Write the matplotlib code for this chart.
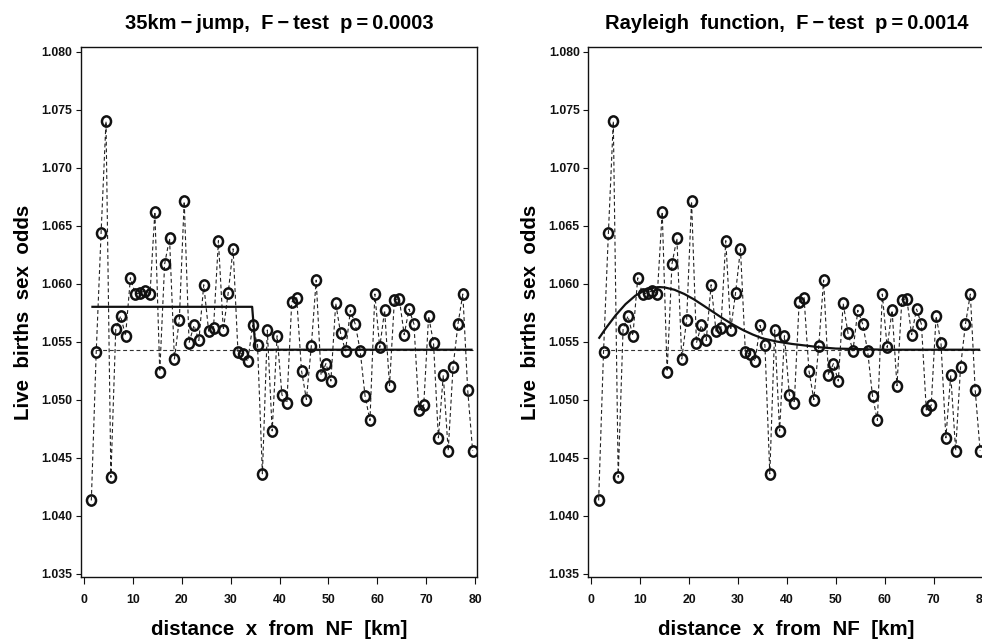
import matplotlib
matplotlib.use("Agg")
import matplotlib.pyplot as plt
from matplotlib.path import Path
import numpy as np

plt.rcParams['font.family'] = ['Liberation Sans', 'DejaVu Sans']
plt.rcParams['font.weight'] = 'bold'

# ---- data ----
distance_km = [1.5, 2.5, 3.5, 4.5, 5.5, 6.5, 7.5, 8.5, 9.5, 10.5,
               11.5, 12.5, 13.5, 14.5, 15.5, 16.5, 17.5, 18.5, 19.5, 20.5,
               21.5, 22.5, 23.5, 24.5, 25.5, 26.5, 27.5, 28.5, 29.5, 30.5,
               31.5, 32.5, 33.5, 34.5, 35.5, 36.5, 37.5, 38.5, 39.5, 40.5,
               41.5, 42.5, 43.5, 44.5, 45.5, 46.5, 47.5, 48.5, 49.5, 50.5,
               51.5, 52.5, 53.5, 54.5, 55.5, 56.5, 57.5, 58.5, 59.5, 60.5,
               61.5, 62.5, 63.5, 64.5, 65.5, 66.5, 67.5, 68.5, 69.5, 70.5,
               71.5, 72.5, 73.5, 74.5, 75.5, 76.5, 77.5, 78.5, 79.5]
sex_odds = [1.0413, 1.0541, 1.0644, 1.0740, 1.0433, 1.0561, 1.0572, 1.0555, 1.0605, 1.0591,
            1.0592, 1.0594, 1.0591, 1.0662, 1.0524, 1.0617, 1.0639, 1.0535, 1.0569, 1.0671,
            1.0549, 1.0564, 1.0551, 1.0599, 1.0559, 1.0562, 1.0637, 1.0560, 1.0592, 1.0630,
            1.0541, 1.0539, 1.0533, 1.0564, 1.0547, 1.0436, 1.0560, 1.0473, 1.0555, 1.0504,
            1.0497, 1.0584, 1.0588, 1.0525, 1.0500, 1.0546, 1.0603, 1.0521, 1.0531, 1.0516,
            1.0583, 1.0557, 1.0542, 1.0577, 1.0565, 1.0542, 1.0503, 1.0482, 1.0591, 1.0545,
            1.0577, 1.0512, 1.0586, 1.0587, 1.0556, 1.0578, 1.0565, 1.0491, 1.0495, 1.0572,
            1.0549, 1.0467, 1.0521, 1.0456, 1.0528, 1.0565, 1.0591, 1.0508, 1.0456]

baseline_x = [2.5, 79.5]
baseline_y = [1.0543, 1.0543]

jump_x = [1.5, 34.4, 35.1, 79.5]
jump_y = [1.0580, 1.0580, 1.0543, 1.0543]

rayleigh_x = [1.5, 3, 5, 7, 9, 11, 13, 14, 15, 17, 19, 21, 23, 25, 27, 29, 31, 33, 35,
              38, 41, 44, 47, 50, 55, 60, 70, 79.5]
rayleigh_y = [1.05525, 1.05617, 1.05728, 1.05823, 1.05896, 1.05944, 1.05967, 1.05970,
              1.05967, 1.05947, 1.05911, 1.05864, 1.05809, 1.05753, 1.05697, 1.05646,
              1.05600, 1.05561, 1.05528, 1.05500, 1.05480, 1.05465, 1.05450, 1.05440,
              1.05435, 1.05430, 1.05430, 1.05430]

titles = ["35km\u2009\u2212\u2009jump,  F\u2009\u2212\u2009test  p\u2009=\u20090.0003",
          "Rayleigh  function,  F\u2009\u2212\u2009test  p\u2009=\u20090.0014"]
xlabel = "distance  x  from  NF  [km]"
ylabel = "Live  births  sex  odds"
xticks = [0, 10, 20, 30, 40, 50, 60, 70, 80]
yticks = [1.035, 1.040, 1.045, 1.050, 1.055, 1.060, 1.065, 1.070, 1.075, 1.080]

# ellipse ("O"-like) marker
circ = Path.unit_circle()
o_marker = Path(circ.vertices * np.array([0.88, 1.0]), circ.codes)

fig = plt.figure(figsize=(9.82, 6.4), dpi=100)
ax1 = fig.add_axes([0.0822, 0.0984, 0.4039, 0.8281])
ax2 = fig.add_axes([0.5988, 0.0984, 0.4041, 0.8281])

models = [(jump_x, jump_y), (rayleigh_x, rayleigh_y)]
for ax, title, (mx, my) in zip([ax1, ax2], titles, models):
    ax.plot(baseline_x, baseline_y, color='#333333', lw=0.8,
            linestyle=(0, (3.5, 2.5)), zorder=1)
    ax.plot(distance_km, sex_odds, color='#222222', lw=0.8,
            linestyle=(0, (3.5, 2.5)), zorder=2)
    ax.plot(distance_km, sex_odds, linestyle='none', marker=o_marker,
            markersize=7.4, markerfacecolor='none', markeredgecolor='#111111',
            markeredgewidth=1.8, zorder=3)
    ax.plot(mx, my, color='#111111', lw=1.6, zorder=4, solid_capstyle='butt')
    ax.set_xlim(-0.67, 80.47)
    ax.set_ylim(1.0347, 1.0804)
    ax.set_xticks(xticks)
    ax.set_yticks(yticks)
    ax.set_yticklabels([f"{v:.3f}" for v in yticks])
    ax.tick_params(axis='both', direction='out', width=0.8,
                   labelsize=8.8, colors='#111111')
    ax.tick_params(axis='x', length=5, pad=7.5)
    ax.tick_params(axis='y', length=3.5, pad=2.5)
    for lab in ax.get_xticklabels() + ax.get_yticklabels():
        lab.set_fontweight('bold')
    for s in ax.spines.values():
        s.set_linewidth(1.0)
        s.set_color('#111111')
    ax.set_title(title, fontsize=14.5, fontweight='bold', pad=13)
    ax.set_xlabel(xlabel, fontsize=14.8, fontweight='bold', labelpad=9.5)
    ax.set_ylabel(ylabel, fontsize=14.8, fontweight='bold', labelpad=6)

fig.savefig("out.png", dpi=100)
